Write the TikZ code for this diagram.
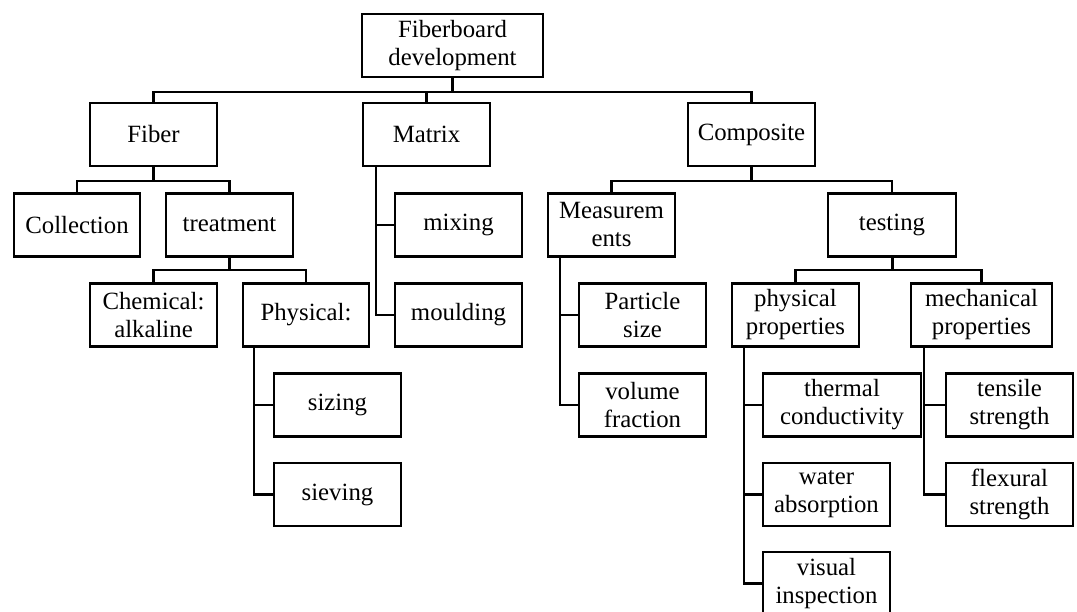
\documentclass[tikz,border=0pt]{standalone}
\usepackage{fontspec}
\setmainfont{Liberation Serif}
\begin{document}
\begin{tikzpicture}[x=1pt,y=-1pt,
  box/.style={draw, line width=2.4pt, minimum height=63pt, minimum width=127pt, inner sep=0pt,
    align=center, font=\fontsize{24.8}{28}\selectfont},
  conn/.style={line width=2.4pt},
  stem/.style={line width=3pt}]
\useasboundingbox (0,0) rectangle (1077,612);
% row 0
\node[box, minimum width=181pt] (root) at (452.5,45.5) {Fiberboard\\development};
% row 1
\node[box] (fiber) at (153.5,134.5) {Fiber};
\node[box] (matrix) at (426.5,134.5) {Matrix};
\node[box] (composite) at (751.5,134.5) {Composite};
% row 2
\node[box, minimum width=126pt] (collection) at (77,225) {Collection};
\node[box] (treatment) at (229.5,225) {treatment};
\node[box] (mixing) at (458.5,225) {mixing};
\node[box] (measure) at (611.5,225) {Measurem\\ents};
\node[box, minimum width=128pt] (testing) at (892,225) {testing};
% row 3
\node[box] (chemical) at (153.5,315) {Chemical:\\alkaline};
\node[box, minimum width=126pt] (physical) at (306,315) {Physical:};
\node[box] (moulding) at (458.5,315) {moulding};
\node[box] (particle) at (642.5,315) {Particle\\size};
\node[box] (physprop) at (795.5,315) {physical\\properties};
\node[box, minimum width=141pt] (mechprop) at (981.5,315) {mechanical\\properties};
% row 4
\node[box] (sizing) at (337.5,405) {sizing};
\node[box] (volume) at (642.5,405) {volume\\fraction};
\node[box, minimum width=158pt] (thermal) at (842,405) {thermal\\conductivity};
\node[box] (tensile) at (1009.5,405) {tensile\\strength};
% row 5
\node[box] (sieving) at (337.5,494.5) {sieving};
\node[box] (water) at (826.5,494.5) {water\\absorption};
\node[box] (flexural) at (1009.5,494.5) {flexural\\strength};
% row 6
\node[box] (visual) at (826.5,583.5) {visual\\inspection};

% buses
\coordinate (b0) at (452.5,92);
\draw[stem] (root.south) -- (b0);
\draw[conn] (fiber.north) |- (b0);
\draw[conn] (matrix.north) |- (b0);
\draw[conn] (composite.north) |- (b0);

\coordinate (b1) at (153.5,181);
\draw[stem] (fiber.south) -- (b1);
\draw[conn] (collection.north) |- (b1);
\draw[conn] (treatment.north) |- (b1);

\coordinate (b2) at (229.5,270);
\draw[stem] (treatment.south) -- (b2);
\draw[conn] (chemical.north) |- (b2);
\draw[conn] (physical.north) |- (b2);

\coordinate (b3) at (751.5,181);
\draw[stem] (composite.south) -- (b3);
\draw[conn] (measure.north) |- (b3);
\draw[conn] (testing.north) |- (b3);

\coordinate (b4) at (892,270);
\draw[stem] (testing.south) -- (b4);
\draw[conn] (physprop.north) |- (b4);
\draw[conn] (mechprop.north) |- (b4);

% spines
\coordinate (s1) at ([xshift=14pt]matrix.south west);
\draw[conn] (s1) |- (mixing.west);
\draw[conn] (s1) |- (moulding.west);

\coordinate (s2) at ([xshift=12pt]physical.south west);
\draw[conn] (s2) |- (sizing.west);
\draw[conn] (s2) |- (sieving.west);

\coordinate (s3) at ([xshift=13pt]measure.south west);
\draw[conn] (s3) |- (particle.west);
\draw[conn] (s3) |- (volume.west);

\coordinate (s4) at ([xshift=13pt]physprop.south west);
\draw[conn] (s4) |- (thermal.west);
\draw[conn] (s4) |- (water.west);
\draw[conn] (s4) |- (visual.west);

\coordinate (s5) at ([xshift=14pt]mechprop.south west);
\draw[conn] (s5) |- (tensile.west);
\draw[conn] (s5) |- (flexural.west);
\end{tikzpicture}
\end{document}
